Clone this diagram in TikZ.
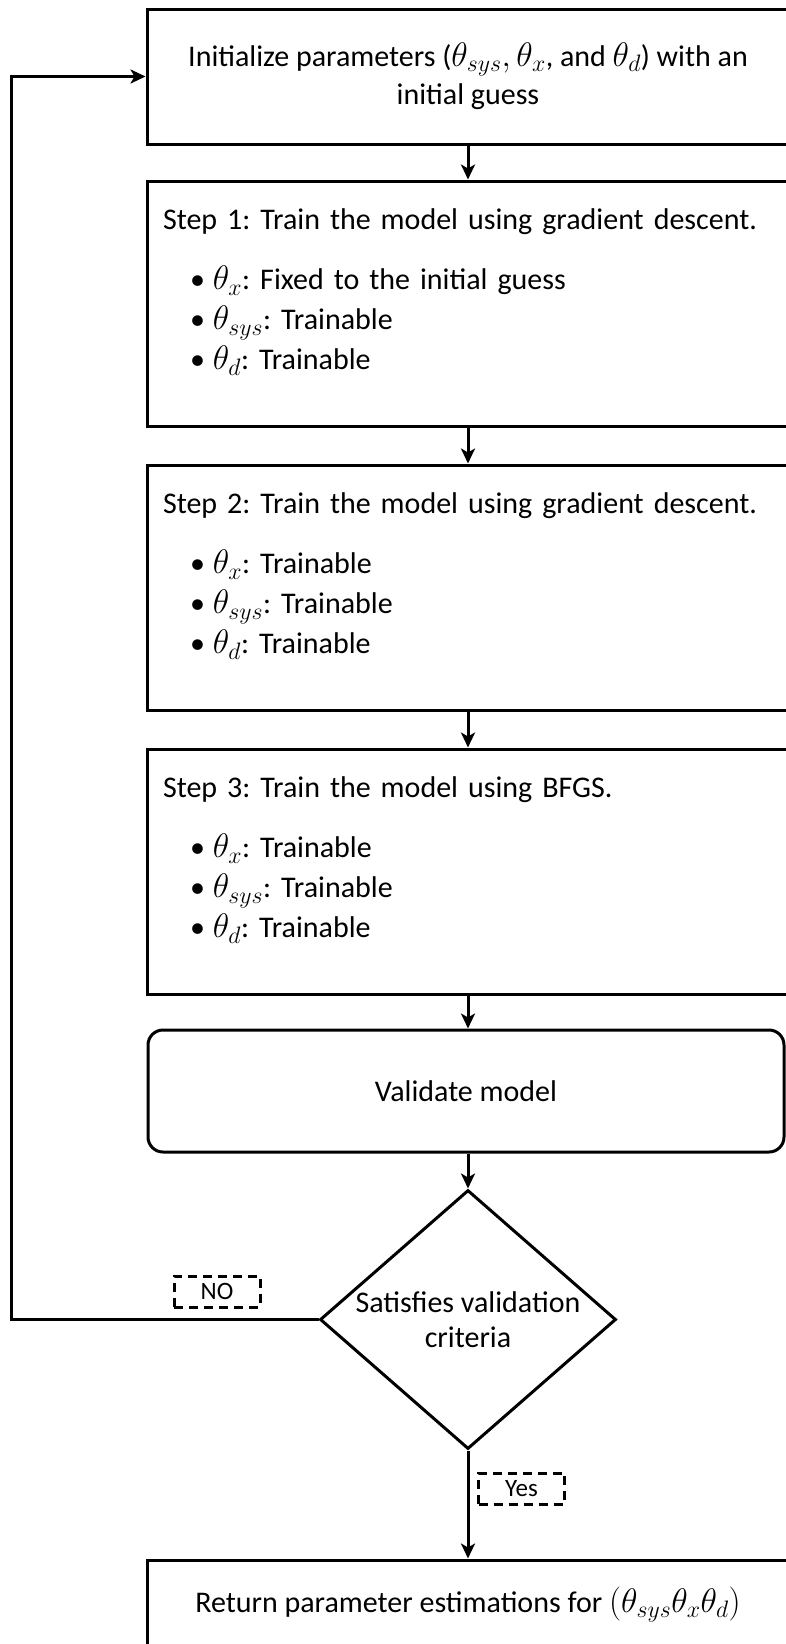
\RequirePackage{fix-cm}
\documentclass[tikz,border=0pt]{standalone}
\usepackage{fontspec}
\setmainfont{Carlito}
\usepackage{tikz}
\usetikzlibrary{shapes.geometric, arrows.meta, positioning}

\frenchspacing
\newcommand{\mth}[1]{{\fontsize{34}{39}\selectfont$#1$}}
\newcommand{\itm}{\hspace*{27pt}\textbullet\hspace{8pt}}
\newcommand{\lastline}{\rule[-28pt]{0pt}{0pt}}

\begin{document}
\begin{tikzpicture}[
    x=1pt, y=1pt,
    node distance=36pt,
    box/.style={rectangle, draw, line width=3pt, minimum width=642pt, minimum height=135pt, align=center, font=\fontsize{30}{38}\selectfont},
    stepbox/.style={rectangle, draw, line width=3pt, text width=610pt, inner xsep=16pt, minimum height=245pt, align=left, font=\fontsize{30}{40}\selectfont},
    roundbox/.style={rectangle, draw, line width=3pt, minimum width=636pt, minimum height=122pt, rounded corners=15pt, font=\fontsize{30}{36}\selectfont},
    decision/.style={diamond, draw, line width=3pt, aspect=1.15, inner sep=0pt, minimum width=296pt, minimum height=259pt, align=center, font=\fontsize{30}{35}\selectfont},
    tag/.style={rectangle, draw, dashed, dash pattern=on 9pt off 6pt, line width=3pt, minimum width=86pt, minimum height=31pt, inner sep=2pt, font=\fontsize{25}{27}\selectfont},
    arrow/.style={-{Stealth[length=15pt, width=14pt, inset=4pt]}, line width=3pt}
]
\useasboundingbox (0,0) rectangle (785,-1644);

% Initial guess
\node[box] (init) at (468,-76.5) {Initialize parameters (\mth{\theta_{sys}, \theta_x}, and \mth{\theta_d}) with an\\initial guess};

% Training steps
\node[stepbox, below=34pt of init] (step1) {Step 1: Train the model using gradient descent.\\[20pt]
\itm\mth{\theta_x}: Fixed to the initial guess\\
\itm\mth{\theta_{sys}}: Trainable\\
\itm\mth{\theta_d}: Trainable\lastline};

\node[stepbox, below=of step1] (step2) {Step 2: Train the model using gradient descent.\\[20pt]
\itm\mth{\theta_x}: Trainable\\
\itm\mth{\theta_{sys}}: Trainable\\
\itm\mth{\theta_d}: Trainable\lastline};

\node[stepbox, below=of step2] (step3) {Step 3: Train the model using BFGS.\\[20pt]
\itm\mth{\theta_x}: Trainable\\
\itm\mth{\theta_{sys}}: Trainable\\
\itm\mth{\theta_d}: Trainable\lastline};

% Validation
\node[roundbox, below=33pt of step3, xshift=-2pt] (valid) {Validate model};
\node[decision, below=35pt of step3 |- valid.south] (check) {Satisfies validation\\criteria};

% Result
\node[box, minimum height=89pt, below=108pt of check] (result) {Return parameter estimations for \mth{(\theta_{sys}\theta_x\theta_d)}};

% Labels
\node[tag, above left=11pt and 57pt of check.west] (no) {NO};
\node[tag, below right=21pt and 9pt of check.south] (yes) {Yes};
\coordinate[left=134pt of init.west] (back);

% Arrows
\draw[arrow] (init) -- (step1);
\draw[arrow] (step1) -- (step2);
\draw[arrow] (step2) -- (step3);
\draw[arrow] (step3.south) -- (step3.south |- valid.north);
\draw[arrow] (step3.south |- valid.south) -- (check);
\draw[arrow] (check) -- (result);
\draw[arrow] (check.west) -| (back) -- (init.west);

\end{tikzpicture}
\end{document}
